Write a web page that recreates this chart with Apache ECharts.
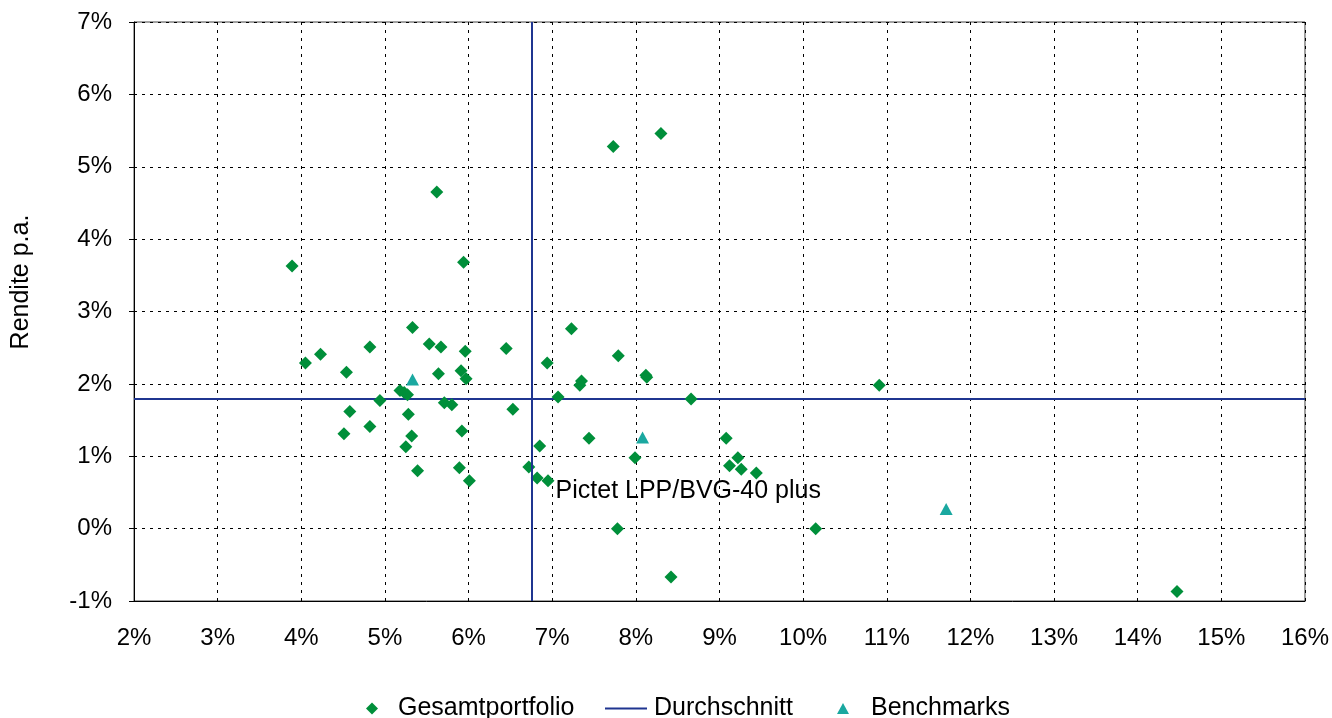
<!DOCTYPE html>
<html>
<head>
<meta charset="utf-8">
<script src="https://cdn.jsdelivr.net/npm/echarts@6/dist/echarts.min.js"></script>
<style>
  html, body { margin: 0; padding: 0; background: #fff; }
  #chart { width: 1332px; height: 718px; }
</style>
</head>
<body>
<div id="chart"></div>
<script>
// Gesamtportfolio: [Risiko %, Rendite p.a. %]
const portfolioPoints = [
  [3.89, 3.63], [5.94, 3.68], [5.62, 4.65], [7.73, 5.28], [8.30, 5.46],
  [5.33, 2.78], [4.05, 2.29], [4.23, 2.41], [4.82, 2.51], [5.53, 2.55],
  [5.67, 2.51], [5.96, 2.45], [6.45, 2.49], [6.94, 2.29], [7.23, 2.76],
  [7.79, 2.39], [4.54, 2.16], [5.64, 2.14], [5.91, 2.18], [5.97, 2.07],
  [7.35, 2.04], [7.33, 1.98], [8.12, 2.12], [8.13, 2.09], [10.91, 1.98],
  [5.18, 1.91], [5.23, 1.88], [5.27, 1.85], [4.94, 1.77], [5.71, 1.74],
  [5.80, 1.71], [7.07, 1.82], [8.66, 1.79], [4.58, 1.62], [6.53, 1.65],
  [5.28, 1.58], [4.82, 1.41], [4.51, 1.31], [5.92, 1.35], [5.32, 1.28],
  [7.44, 1.25], [9.08, 1.25], [5.25, 1.13], [6.85, 1.14], [7.99, 0.98],
  [9.22, 0.98], [9.12, 0.87], [9.26, 0.82], [9.44, 0.77], [6.72, 0.85],
  [5.89, 0.84], [5.39, 0.80], [6.01, 0.66], [6.82, 0.70], [6.95, 0.66],
  [7.78, 0.00], [10.15, 0.00], [8.42, -0.67], [14.47, -0.87]
];
// Benchmarks: [Risiko %, Rendite p.a. %]
const benchmarkPoints = [
  [5.33, 2.06], [8.08, 1.26], [11.71, 0.27]
];
// Durchschnitt
const avgRisk = 6.755;
const avgReturn = 1.79;
// Annotation
const annotationText = 'Pictet LPP/BVG-40 plus';
const annotationPoint = [7.04, 0.52];
// Axes
const xMin = 2, xMax = 16, yMin = -1, yMax = 7;
const seriesNames = ['Gesamtportfolio', 'Durchschnitt', 'Benchmarks'];

const FONT = "'Liberation Sans', Arial, Helvetica, sans-serif";
const GREEN = '#008f3a', NAVY = '#1f3590', TEAL = '#1aa8a0';
const chart = echarts.init(document.getElementById('chart'), null, { renderer: 'canvas' });

const legendText = { fontSize: 25, color: '#000', fontFamily: FONT };

chart.setOption({
  animation: false,
  backgroundColor: '#ffffff',
  textStyle: { fontFamily: FONT, color: '#000' },
  grid: {
    left: 134, right: 25, top: 22, bottom: 117,
    show: true, borderColor: '#444', borderWidth: 1, backgroundColor: 'transparent'
  },
  legend: [
    {
      data: [{ name: seriesNames[0], icon: 'diamond' }],
      left: 361, top: 691, itemWidth: 12, itemHeight: 12,
      textStyle: Object.assign({ padding: [0, 0, 0, 15] }, legendText)
    },
    {
      data: [{ name: seriesNames[1], icon: 'rect' }],
      left: 600, top: 691, itemWidth: 42, itemHeight: 2,
      textStyle: Object.assign({ padding: [0, 0, 0, 2] }, legendText)
    },
    {
      data: [{ name: seriesNames[2], icon: 'triangle' }],
      left: 832, top: 691, itemWidth: 12, itemHeight: 11,
      textStyle: Object.assign({ padding: [0, 0, 0, 17] }, legendText)
    }
  ],
  graphic: [{
    type: 'text',
    x: 21, y: 282, rotation: Math.PI / 2,
    style: {
      text: 'Rendite p.a.', fill: '#000',
      font: "25px 'Liberation Sans', Arial, sans-serif",
      align: 'center', verticalAlign: 'middle'
    }
  }],
  xAxis: {
    type: 'value', min: xMin, max: xMax, interval: 1,
    axisLine: { show: true, onZero: false, lineStyle: { color: '#000', width: 1 } },
    axisTick: { show: false },
    axisLabel: { formatter: '{value}%', fontSize: 24, color: '#000', margin: 25, fontFamily: FONT },
    splitLine: { show: true, lineStyle: { color: '#000', type: [3, 5], width: 1 } }
  },
  yAxis: {
    type: 'value', min: yMin, max: yMax, interval: 1,
    axisLine: { show: true, onZero: false, lineStyle: { color: '#000', width: 1 } },
    axisTick: { show: true, length: 5, lineStyle: { color: '#000' } },
    axisLabel: { formatter: '{value}%', fontSize: 24, color: '#000', margin: 22, fontFamily: FONT },
    splitLine: { show: true, lineStyle: { color: '#000', type: [3, 5], width: 1 } }
  },
  series: [
    {
      name: 'Gesamtportfolio',
      type: 'scatter',
      symbol: 'diamond',
      symbolSize: 13,
      itemStyle: { color: GREEN, opacity: 1 },
      data: portfolioPoints,
      z: 4
    },
    {
      name: 'Durchschnitt',
      type: 'line',
      symbol: 'none',
      lineStyle: { color: NAVY, width: 2 },
      itemStyle: { color: NAVY },
      data: [[xMin, avgReturn], [xMax, avgReturn]],
      markLine: {
        silent: true,
        symbol: 'none',
        label: { show: false },
        lineStyle: { color: NAVY, width: 2, type: 'solid' },
        data: [{ xAxis: avgRisk }]
      },
      z: 3
    },
    {
      name: 'Benchmarks',
      type: 'scatter',
      symbol: 'triangle',
      symbolSize: [13, 12],
      itemStyle: { color: TEAL, opacity: 1 },
      data: benchmarkPoints,
      z: 5
    },
    {
      name: 'annotation',
      type: 'scatter',
      symbolSize: 0,
      silent: true,
      itemStyle: { opacity: 1 },
      data: [annotationPoint],
      label: {
        show: true, position: 'right', distance: 0,
        formatter: annotationText,
        fontSize: 25, color: '#000', opacity: 1, fontFamily: FONT
      },
      z: 6
    }
  ]
});
</script>
</body>
</html>
